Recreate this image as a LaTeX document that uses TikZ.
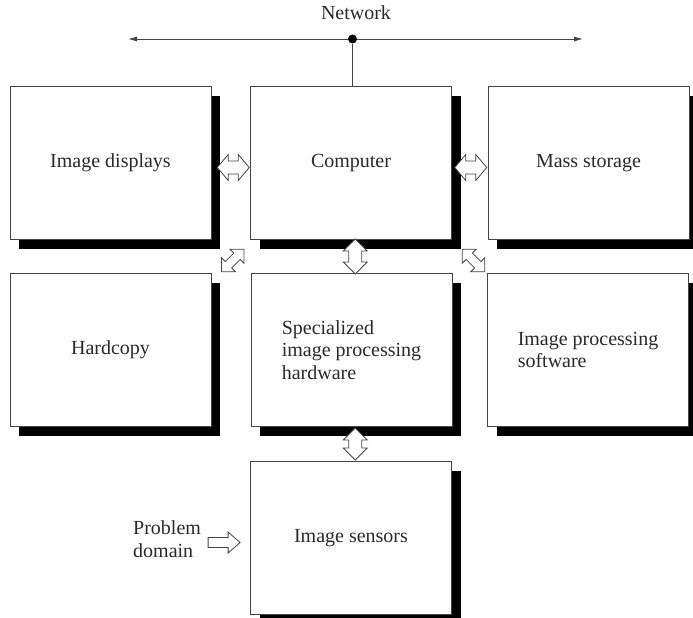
\documentclass[tikz,border=0pt]{standalone}
\usepackage{fontspec}
\setmainfont{Liberation Serif}
\usetikzlibrary{calc,shadows,arrows.meta}
\definecolor{txt}{HTML}{2A2A2A}
\definecolor{ln}{HTML}{444444}
% double block arrow: centre, angle, length, head width, shaft width, head length
\newcommand\blockdbl[6]{%
  \draw[barrow, shift={#1}, rotate=#2]
    ({-#3/2},0) -- ({-#3/2+#6},{#4/2}) -- ({-#3/2+#6},{#5/2}) --
    ({#3/2-#6},{#5/2}) -- ({#3/2-#6},{#4/2}) -- ({#3/2},0) --
    ({#3/2-#6},{-#4/2}) -- ({#3/2-#6},{-#5/2}) --
    ({-#3/2+#6},{-#5/2}) -- ({-#3/2+#6},{-#4/2}) -- cycle;}
% single block arrow pointing along the angle
\newcommand\blocksgl[6]{%
  \draw[barrow, shift={#1}, rotate=#2]
    ({-#3/2},{#5/2}) -- ({#3/2-#6},{#5/2}) -- ({#3/2-#6},{#4/2}) --
    ({#3/2},0) -- ({#3/2-#6},{-#4/2}) -- ({#3/2-#6},{-#5/2}) --
    ({-#3/2},{-#5/2}) -- cycle;}
\begin{document}
\begin{tikzpicture}[x=1pt,y=-1pt,
  blk/.style={draw=ln, line width=0.8pt, fill=white,
    minimum width=201pt, minimum height=153pt, inner sep=0pt,
    text=txt, font=\fontsize{20}{22.5}\selectfont, align=left,
    general shadow={fill=black, shadow xshift=9pt, shadow yshift=-9pt}},
  lbl/.style={text=txt, font=\fontsize{20}{23}\selectfont, inner sep=0pt},
  barrow/.style={draw=ln, line width=0.8pt, fill=white, line join=miter},
  netline/.style={draw=ln, line width=0.9pt}]
\useasboundingbox (0,0) rectangle (693,618);

% boxes
\node[blk] (disp) at (110.5,163) {Image displays};
\node[blk] (comp) at (351,163) {Computer};
\node[blk] (mass) at (588.5,163) {Mass storage};
\node[blk] (hard) at (110.5,350) {Hardcopy};
\node[blk] (spec) at (351.5,350) {Specialized\\image processing\\hardware};
\node[blk] (soft) at (588,350) {Image processing\\software};
\node[blk] (sens) at (351,538) {Image sensors};

% network
\node[lbl, anchor=base] (net) at (356,20) {Network};
\coordinate (netL) at (128,39);
\coordinate (netR) at (583,39);
\draw[netline, {Latex[length=9pt,width=5pt]}-{Latex[length=9pt,width=5pt]}] (netL) -- (netR);
\node[circle, fill=black, minimum size=9pt, inner sep=0pt] (hub) at ($(comp.north |- netL)+(1.5,0)$) {};
\draw[netline] (hub) -- (hub |- comp.north);

% block arrows
\blockdbl{($(disp.east)!0.5!(comp.west)+(2.5,4.5)$)}{0}{32}{26}{13}{11}
\blockdbl{($(comp.east)!0.5!(mass.west)+(1,4.5)$)}{0}{32}{26}{13}{11}
\blockdbl{($(comp.south)!0.5!(spec.north)+(4,0)$)}{90}{35}{24}{13}{12}
\blockdbl{($(spec.south)!0.5!(sens.north)+(4,0)$)}{90}{32}{24}{13}{12}
\blockdbl{($(hard.north east)!0.5!(comp.south west)+(2,4)$)}{45}{32}{20}{9}{10}
\blockdbl{($(comp.south east)!0.5!(soft.north west)+(4,4)$)}{-45}{32}{20}{9}{10}

% problem domain
\node[lbl, align=left, anchor=base west] (pd) at (133,557) {Problem\\domain};
\blocksgl{($(sens.west)+(-26,4.5)$)}{0}{32}{21}{10}{12}
\end{tikzpicture}
\end{document}
